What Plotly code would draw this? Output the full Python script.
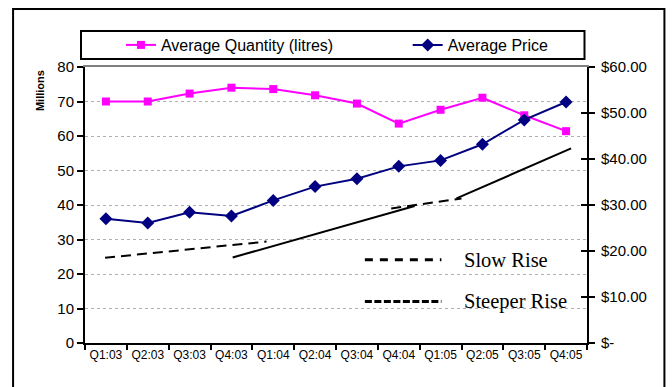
import plotly.graph_objects as go

# ---------------- data ----------------
quarters = ["Q1:03", "Q2:03", "Q3:03", "Q4:03", "Q1:04", "Q2:04",
            "Q3:04", "Q4:04", "Q1:05", "Q2:05", "Q3:05", "Q4:05"]
avg_quantity_millions = [70.0, 70.0, 72.3, 74.0, 73.6, 71.8,
                         69.4, 63.6, 67.6, 71.1, 66.0, 61.4]
avg_price = [27.0, 26.1, 28.4, 27.6, 31.0, 34.0,
             35.7, 38.4, 39.7, 43.2, 48.5, 52.4]

# trend strokes (x in category index units, y in left-axis millions)
slow_rise_1_x = [-0.02, 3.84]
slow_rise_1_y = [24.7, 29.4]
steep_rise_1_x = [3.03, 7.38]
steep_rise_1_y = [24.8, 39.7]
slow_rise_2_x = [6.82, 8.50]
slow_rise_2_y = [39.0, 41.9]
steep_rise_2_x = [8.38, 11.12]
steep_rise_2_y = [41.9, 56.4]

# key for the trend strokes
key_sample_x = [6.19, 8.02]
key_slow_y = [24.1, 24.1]
key_steep_y = [12.0, 12.0]
key_text_x = 8.52
key_labels = ["Slow Rise", "Steeper Rise"]

left_ticks = [0, 10, 20, 30, 40, 50, 60, 70, 80]
right_tickvals = [0, 10, 20, 30, 40, 50, 60]
right_ticktext = ["$-", "$10.00", "$20.00", "$30.00", "$40.00", "$50.00", "$60.00"]

# ---------------- layout geometry ----------------
W, H = 672, 387
L, R, T, B = 85, 587.5, 67, 343  # plot area in px


def px_x(p):
    return (p - L) / (R - L)


def px_y(p):
    return (B - p) / (B - T)


FONT = "Arial, Liberation Sans, sans-serif"
SERIF = "Times New Roman, Liberation Serif, serif"
MAGENTA = "#FF00FF"
NAVY = "#000080"

fig = go.Figure()

fig.add_trace(go.Scatter(
    x=quarters, y=avg_quantity_millions, name="Average Quantity (litres)",
    mode="lines+markers", line=dict(color=MAGENTA, width=2),
    marker=dict(symbol="square", size=8, color=MAGENTA),
    xaxis="x", yaxis="y", legend="legend"))

fig.add_trace(go.Scatter(
    x=quarters, y=avg_price, name="Average Price",
    mode="lines+markers", line=dict(color=NAVY, width=2),
    marker=dict(symbol="diamond", size=10, color=NAVY),
    xaxis="x", yaxis="y2", legend="legend2"))

# invisible carrier for inside ticks on the right axis
fig.add_trace(go.Scatter(
    x=quarters, y=avg_price, mode="lines", line=dict(width=0),
    opacity=0, showlegend=False, hoverinfo="skip", xaxis="x", yaxis="y3"))

for xs, ys, dash in [(slow_rise_1_x, slow_rise_1_y, "10px,6px"),
                     (steep_rise_1_x, steep_rise_1_y, "solid"),
                     (slow_rise_2_x, slow_rise_2_y, "10px,6px"),
                     (steep_rise_2_x, steep_rise_2_y, "solid")]:
    fig.add_trace(go.Scatter(
        x=xs, y=ys, mode="lines", line=dict(color="black", width=2, dash=dash),
        showlegend=False, hoverinfo="skip", xaxis="x2", yaxis="y"))

fig.add_trace(go.Scatter(
    x=key_sample_x, y=key_slow_y, mode="lines",
    line=dict(color="black", width=3, dash="8px,7px"),
    showlegend=False, hoverinfo="skip", xaxis="x2", yaxis="y"))
fig.add_trace(go.Scatter(
    x=key_sample_x, y=key_steep_y, mode="lines",
    line=dict(color="black", width=3, dash="7px,2.5px"),
    showlegend=False, hoverinfo="skip", xaxis="x2", yaxis="y"))

annotations = [
    dict(x=key_text_x, y=key_slow_y[0], xref="x2", yref="y", text=key_labels[0],
         showarrow=False, xanchor="left", yanchor="middle",
         font=dict(family=SERIF, size=20.5, color="black")),
    dict(x=key_text_x, y=key_steep_y[0], xref="x2", yref="y", text=key_labels[1],
         showarrow=False, xanchor="left", yanchor="middle",
         font=dict(family=SERIF, size=20.5, color="black")),
    dict(x=px_x(40), y=px_y(91), xref="paper", yref="paper", text="<b>Millions</b>",
         textangle=-90, showarrow=False, xanchor="center", yanchor="middle",
         font=dict(family=FONT, size=11, color="black")),
]

shapes = [
    # outer chart border (bottom edge lies just below the visible area)
    dict(type="rect", xref="paper", yref="paper",
         x0=px_x(13), x1=px_x(665), y0=px_y(390), y1=px_y(9),
         line=dict(color="black", width=2), fillcolor="rgba(0,0,0,0)", layer="below"),
    # legend box
    dict(type="rect", xref="paper", yref="paper",
         x0=px_x(81), x1=px_x(585), y0=px_y(59), y1=px_y(31),
         line=dict(color="black", width=2), fillcolor="rgba(0,0,0,0)"),
]

legend_common = dict(orientation="h", xanchor="left", yanchor="middle",
                     bgcolor="rgba(0,0,0,0)", borderwidth=0,
                     font=dict(family=FONT, size=16, color="black"),
                     itemclick=False, itemdoubleclick=False)

fig.update_layout(
    width=W, height=H,
    margin=dict(l=L, r=W - R, t=T, b=H - B, pad=0),
    paper_bgcolor="white", plot_bgcolor="white",
    font=dict(family=FONT, color="black"),
    showlegend=True,
    legend=dict(x=px_x(121), y=px_y(45), **legend_common),
    legend2=dict(x=px_x(408), y=px_y(45), **legend_common),
    xaxis=dict(type="category", tickson="boundaries", ticks="outside",
               ticklen=5, tickwidth=2, tickcolor="black", tickangle=0,
               showline=True, linecolor="black", linewidth=2,
               showgrid=False, zeroline=False,
               tickfont=dict(family=FONT, size=12, color="black"),
               range=[-0.5, 11.5]),
    xaxis2=dict(overlaying="x", side="top", range=[-0.5, 11.5],
                showline=True, linecolor="#808080", linewidth=2,
                showticklabels=False, ticks="", showgrid=False, zeroline=False),
    yaxis=dict(range=[0, 80], tickvals=left_ticks, ticks="outside", ticklen=6,
               tickwidth=2, tickcolor="black",
               showline=True, linecolor="black", linewidth=2,
               showgrid=True, gridcolor="#b0b0b0", griddash="dot", gridwidth=1,
               zeroline=False,
               tickfont=dict(family=FONT, size=15, color="black")),
    yaxis2=dict(overlaying="y", side="right", range=[0, 60],
                tickvals=right_tickvals, ticktext=right_ticktext,
                ticks="outside", ticklen=6, tickwidth=2, tickcolor="black",
                showline=True, linecolor="black", linewidth=2,
                showgrid=False, zeroline=False, ticklabelstandoff=3,
                tickfont=dict(family=FONT, size=15, color="black")),
    yaxis3=dict(overlaying="y", side="right", range=[0, 60],
                tickvals=right_tickvals, ticks="inside", ticklen=6, tickwidth=2,
                tickcolor="black", showticklabels=False, showline=False,
                showgrid=False, zeroline=False),
    annotations=annotations,
    shapes=shapes,
)

fig.write_html(
    "out.html",
    config={"displayModeBar": False},
    post_script="document.body.style.margin='0';document.body.style.overflow='hidden';",
)
